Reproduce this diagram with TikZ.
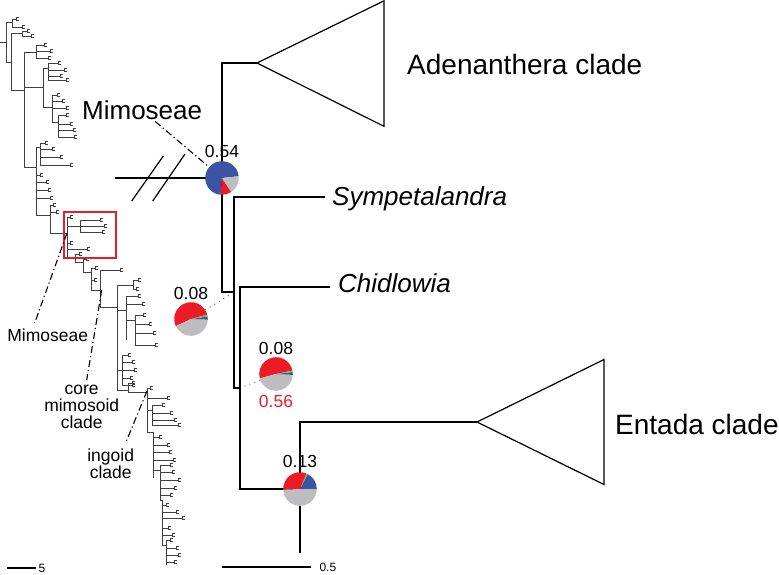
\documentclass[tikz,border=0pt]{standalone}
\usepackage{fontspec}
\setmainfont{Liberation Sans}
\usetikzlibrary{positioning,calc}

\definecolor{pieblue}{RGB}{59,84,165}
\definecolor{piered}{RGB}{237,28,36}
\definecolor{piegray}{RGB}{190,190,192}
\definecolor{piegreen}{RGB}{122,190,72}

\newcommand{\pierad}{16.8}
\newcommand{\pieslice}[4]{\fill[#4] (#1.center) -- ++({-(#2)}:\pierad) arc[start angle={-(#2)}, end angle={-(#3)}, radius=\pierad] -- cycle;}
\newcommand{\cherry}[3]{\draw[twig] (#1,#2) -- ++(#3,0) ++(0,-1.4) -- ++(0,2.8) -- ++(3,0) ++(-3,-2.8) -- ++(3,0);}

\tikzset{
  twig/.style={black!75, line width=0.55pt},
  branch/.style={line width=1.2pt},
  leader/.style={line width=1.1pt, dash pattern=on 7pt off 3pt on 1.2pt off 3pt},
  dotlead/.style={line width=1pt, black!70, dash pattern=on 0.8pt off 4.5pt},
  piebox/.style={circle, minimum size=33.6pt, inner sep=0pt},
  prob/.style={font=\fontsize{17.5}{20}\selectfont, inner sep=1pt},
  clade/.style={font=\fontsize{28}{32}\selectfont, inner sep=0pt, anchor=base west},
  taxon/.style={font=\fontsize{26}{30}\selectfont\itshape, inner sep=0pt, anchor=base west},
  note/.style={font=\fontsize{17.5}{17}\selectfont, align=center, inner sep=0pt},
  scalelbl/.style={font=\fontsize{12}{14}\selectfont, inner sep=0pt}
}

\begin{document}
\begin{tikzpicture}[x=1pt,y=-1pt]
  \useasboundingbox (0,0) rectangle (779,574);

  % small overview tree
  \foreach \x/\a/\b in {6/22/62, 12/19/27, 11/33/90, 22/31/36, 24/52/167, 36/45/58, 43/68/107, 48/63/80, 52/95/122, 58/115/137, 36/147/215, 40/143/165, 50/205/233, 67/217/257, 80/220/232, 75/254/262, 83/259/272, 91/268/290, 100/270/307, 117/285/390, 133/280/289, 126/296/340, 135/315/345, 122/355/385, 128/383/392, 147/388/432, 152/405/425, 153/432/478, 160/465/500, 162/500/545, 166/540/565}
    {\draw[twig] (\x,\a) -- (\x,\b);}
  \foreach \a/\b/\y in {0/6/42, 6/12/22, 6/11/62, 11/22/33, 11/24/90, 24/36/52, 24/43/87, 43/48/68, 43/52/107, 52/58/122, 24/36/167, 36/40/147, 36/50/215, 50/67/233, 67/80/226, 67/75/257, 75/83/262, 83/91/272, 91/100/290, 100/117/307, 117/133/285, 117/126/310, 126/135/320, 117/122/370, 117/128/390, 128/147/392, 147/152/410, 147/153/432, 153/160/470, 160/162/500, 162/166/545}
    {\draw[twig] (\a,\y) -- (\b,\y);}
  \foreach \x/\y/\l in {12/19/4, 12/27/10, 22/31/5, 22/36/9, 36/45/8, 36/51/14, 36/58/12, 48/63/10, 48/70/16, 48/76/12, 48/80/18, 52/95/5, 52/101/10, 52/108/14, 58/115/8, 58/124/12, 58/130/15, 58/137/16, 40/143/5, 40/149/12, 40/157/20, 40/165/30, 36/175/4, 36/182/10, 36/190/12, 36/198/14, 50/205/3, 50/212/6, 67/217/3, 80/220/20, 80/226/24, 80/232/22, 67/243/3, 67/249/20, 75/254/4, 83/259/3, 91/268/4, 91/280/3, 100/270/20, 133/280/5, 133/289/3, 126/296/12, 126/304/16, 135/315/8, 135/324/14, 135/333/18, 135/345/20, 122/355/6, 122/362/10, 122/370/12, 122/378/8, 122/385/10, 128/383/4, 147/388/3, 147/398/20, 152/405/10, 152/413/18, 152/420/22, 152/425/26, 153/437/6, 153/445/14, 153/452/16, 153/460/20, 160/465/10, 160/472/12, 160/480/18, 160/488/14, 160/495/10, 162/505/4, 162/512/14, 162/518/20, 162/528/6, 162/535/10, 166/540/4, 166/548/10, 166/555/12, 166/562/8}
    {\cherry{\x}{\y}{\l}}

  \draw[piered, line width=1.2pt] (64,212) rectangle (116,258);
  \coordinate (redclade) at (67,233);
  \coordinate (coreclade) at (101.7,290);
  \coordinate (ingclade) at (147,391);

  \node[note] (mimsmall) at (47.7,335.7) {Mimoseae};
  \node[note] (coretxt) at (81.7,407) {core\\mimosoid\\clade};
  \node[note] (ingtxt) at (110.7,464) {ingoid\\clade};
  \draw[leader] (redclade) -- ($(mimsmall.north)+(-13,-6)$);
  \draw[leader] (coreclade) -- ($(coretxt.north)+(5,-5)$);
  \draw[leader] (ingclade) -- ($(ingtxt.north)+(15,-6)$);

  \draw[line width=1.1pt] (7,568) -- (36,568) node[scalelbl, right=2pt] {5};

  % enlarged part
  \coordinate (root) at (115,178);
  \node[piebox] (pA) at (222,178) {};
  \coordinate (adn) at (257,63);
  \coordinate (nB) at (234,292);
  \coordinate (symend) at (325,197);
  \coordinate (nC) at (240,388);
  \coordinate (chiend) at (330,287);
  \node[piebox] (pB) at (191,319) {};
  \node[piebox] (pC) at (276,374) {};
  \node[piebox] (pD) at (300,489) {};
  \coordinate (ent) at (477,422);
  \coordinate (tail) at (300,553);

  \draw[branch] (root) -- (pA.center);
  \draw[branch] (131.7,201) -- (163.3,156);
  \draw[branch] (152.7,201) -- (185,154);
  \draw[branch] (adn) -| (pA.center) -- (pA.center |- nB) -- (nB);
  \draw[branch] (symend) -| (nB |- nC) -- (nC);
  \draw[branch] (chiend) -| (nC |- pD) -- (pD.center);
  \draw[branch] (ent) -| (tail);
  \draw[branch] (adn) -- ++(127,-62.2) -- ++(0,125.5) -- cycle;
  \draw[branch] (ent) -- ++(127,-62.5) -- ++(0,125) -- cycle;

  \draw[dotlead] (pB) -- (nB);
  \draw[dotlead] (pC) -- (nC);

  \pieslice{pA}{6}{265}{pieblue}
  \pieslice{pA}{265}{303}{piered}
  \pieslice{pA}{303}{305}{piegreen}
  \pieslice{pA}{305}{366}{piegray}

  \pieslice{pB}{15}{205}{piered}
  \pieslice{pB}{205}{358}{piegray}
  \pieslice{pB}{358}{369}{pieblue}
  \pieslice{pB}{369}{375}{piegreen}

  \pieslice{pC}{12}{195}{piered}
  \pieslice{pC}{195}{357}{piegray}
  \pieslice{pC}{357}{367}{pieblue}
  \pieslice{pC}{367}{372}{piegreen}

  \pieslice{pD}{0}{63}{pieblue}
  \pieslice{pD}{63}{68}{piegreen}
  \pieslice{pD}{68}{182}{piered}
  \pieslice{pD}{182}{360}{piegray}

  \node[prob, above=2pt of pA] {0.54};
  \node[prob, above=1.5pt of pB] {0.08};
  \node[prob, above=1pt of pC] {0.08};
  \node[prob, text=piered, below=3pt of pC] {0.56};
  \node[prob, above=3pt of pD] {0.13};

  \node[clade] (mimbig) at (82,119) {\fontsize{26}{30}\selectfont Mimoseae};
  \draw[leader] ($(mimbig.south)+(13,2)$) -- (pA);

  \node[clade] (adtxt) at (407,74) {Adenanthera clade};
  \node[clade] (entxt) at (615,434) {Entada clade};
  \node[taxon] (sym) at (332,205) {Sympetalandra};
  \node[taxon] (chi) at (338,292) {Chidlowia};

  \draw[line width=1.1pt] (222,567) -- (311,567) node[scalelbl, right=8pt] {0.5};
\end{tikzpicture}
\end{document}
